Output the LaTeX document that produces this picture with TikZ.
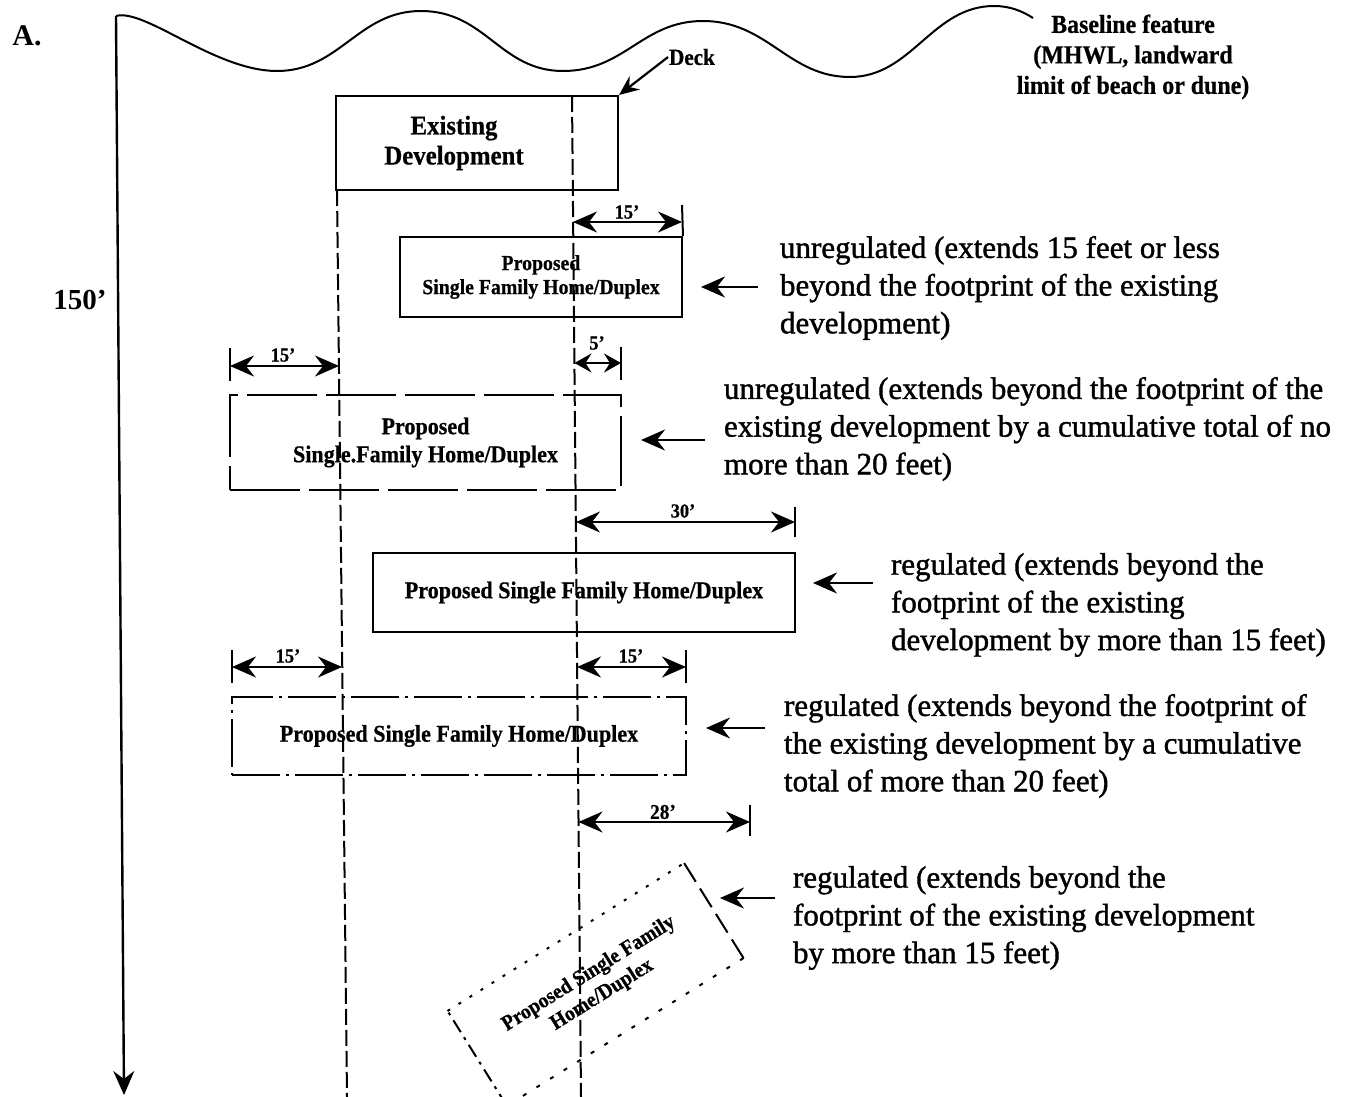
\documentclass[tikz,border=0pt]{standalone}
\usepackage{fontspec}
\setmainfont{Liberation Serif}
\newfontfamily\descfont{Liberation Serif}[FakeBold=1.3]
\newfontfamily\cfont{Liberation Serif}[FakeStretch=0.92, FakeBold=0.6]
\usetikzlibrary{arrows.meta,calc}
\begin{document}
\begin{tikzpicture}[x=1pt,y=-1pt,
  line width=2pt,
  vdash/.style={line width=2pt, dash pattern=on 16pt off 5pt},
  tipa/.tip={Stealth[length=24pt,width=21pt,inset=8pt]},
  dim/.style={line width=2.2pt, tipa-tipa},
  ind/.style={line width=2.4pt, -tipa},
  house/.style={inner sep=0pt, align=center, font=\cfont\bfseries\fontsize{24}{28}\selectfont},
  desc/.style={anchor=west, align=left, inner sep=0pt, font=\descfont\fontsize{31}{37.7}\selectfont},
  dlab/.style={font=\cfont\bfseries\fontsize{20}{22}\selectfont, inner sep=0pt},
]
\clip (0,0) rectangle (1353,1097);

% title and scale
\node[font=\bfseries\fontsize{30}{32}\selectfont] (A) at (27,36) {A.};
\node[font=\bfseries\fontsize{29}{32}\selectfont] (h150) at (80,300) {150’};

% baseline wave and axis
\coordinate (ax0) at (116,16);
\coordinate (ax1) at (124,1095);
\draw[ind] (ax0) -- (ax1);
\draw (ax0) .. controls (145,8) and (215,71) .. (277,71)
  .. controls (340,71) and (358,11) .. (421,11)
  .. controls (486,11) and (500,71) .. (563,71)
  .. controls (625,71) and (642,21) .. (703,21)
  .. controls (768,21) and (788,77) .. (850,77)
  .. controls (912,77) and (932,6) .. (994,6)
  .. controls (1010,6) and (1022,11) .. (1033,18);
\node[font=\cfont\bfseries\fontsize{26}{30.5}\selectfont, align=center] (base) at (1133,57) {Baseline feature\\(MHWL, landward\\limit of beach or dune)};

% existing development + deck
\node[draw, minimum width=282pt, minimum height=94pt, inner sep=0pt] (site) at (477,143) {};
\node[font=\cfont\bfseries\fontsize{27}{30}\selectfont, align=center, inner sep=0pt] (ex) at (454,143) {Existing\\Development};
\node[font=\cfont\bfseries\fontsize{23}{24}\selectfont, inner sep=0pt] (deckl) at (692,57) {Deck};
\draw[line width=2.2pt, -{Stealth[length=20pt,width=17pt,inset=7pt]}] (deckl.west) -- (site.north east);

% footprint lines
\coordinate (L0) at (337,190);
\coordinate (L1) at (347,1097);
\coordinate (R0) at (572,96);
\coordinate (R1) at (581,1097);
\draw[vdash] (L0) -- (L1);
\draw[vdash] (R0) -- (R1);

% box 1
\node[house, draw, minimum width=282pt, minimum height=80pt, font=\cfont\bfseries\fontsize{21.5}{24}\selectfont] (b1) at (541,277) {Proposed\\Single Family Home/Duplex};
\coordinate (d1a) at (573,222);
\coordinate (d1b) at (682,222);
\coordinate (k1) at (682,205);
\draw (k1) -- (b1.north east);
\draw[dim] (d1a) -- (d1b);
\node[dlab] (l1) at (627,212) {15’};
\node[desc] (t1) at (779,288) {unregulated (extends 15 feet or less\\beyond the footprint of the existing\\development)};
\coordinate (i1) at (758,287);
\draw[ind, shorten >=18pt] (i1) -- (i1 -| b1.east);

% box 2
\node[house, draw, dash pattern=on 70pt off 9pt, minimum width=391pt, minimum height=95pt] (b2) at (425.5,442.5) {Proposed\\Single.Family Home/Duplex};
\coordinate (d2a) at (230,366);
\coordinate (d2b) at (339,366);
\coordinate (k2a) at (230,348);
\coordinate (k2b) at (230,381);
\draw (k2a) -- (k2b);
\draw[dim] (d2a) -- (d2b);
\node[dlab] (l2) at (283,355) {15’};
\coordinate (d3a) at (574.5,363);
\coordinate (d3b) at (621,363);
\coordinate (k3a) at (621,347);
\coordinate (k3b) at (621,380);
\draw (k3a) -- (k3b);
\draw[line width=2.2pt, {Stealth[length=17pt,width=19pt,inset=6pt]}-{Stealth[length=17pt,width=19pt,inset=6pt]}] (d3a) -- (d3b);
\node[dlab] (l3) at (597,343) {5’};
\node[desc] (t2) at (723,429) {unregulated (extends beyond the footprint of the\\existing development by a cumulative total of no\\more than 20 feet)};
\coordinate (i2) at (705,440);
\draw[ind, shorten >=19pt] (i2) -- (i2 -| b2.east);

% box 3
\node[house, draw, minimum width=422pt, minimum height=79pt] (b3) at (584,592.5) {Proposed Single Family Home/Duplex};
\coordinate (d4a) at (576,522);
\coordinate (d4b) at (795,522);
\coordinate (k4) at (795,507);
\draw (k4) -- ($(k4)+(0,30)$);
\draw[dim] (d4a) -- (d4b);
\node[dlab] (l4) at (683,511) {30’};
\node[desc] (t3) at (890,605) {regulated (extends beyond the\\footprint of the existing\\development by more than 15 feet)};
\coordinate (i3) at (873,583);
\draw[ind, shorten >=17pt] (i3) -- (i3 -| b3.east);

% box 4
\node[house, draw, dash pattern=on 48pt off 6pt on 3pt off 6pt, minimum width=454pt, minimum height=78pt] (b4) at (459,736) {Proposed Single Family Home/Duplex};
\coordinate (d5a) at (232,667);
\coordinate (d5b) at (342,667);
\coordinate (k5a) at (232,650);
\coordinate (k5b) at (232,683);
\draw (k5a) -- (k5b);
\draw[dim] (d5a) -- (d5b);
\node[dlab] (l5) at (288,656) {15’};
\coordinate (d6a) at (577,667);
\coordinate (d6b) at (686,667);
\coordinate (k6a) at (686,650);
\coordinate (k6b) at (686,683);
\draw (k6a) -- (k6b);
\draw[dim] (d6a) -- (d6b);
\node[dlab] (l6) at (631,656) {15’};
\node[desc] (t4) at (783,746) {regulated (extends beyond the footprint of\\the existing development by a cumulative\\total of more than 20 feet)};
\coordinate (i4) at (765,728);
\draw[ind, shorten >=19pt] (i4) -- (i4 -| b4.east);

% box 5 (rotated)
\coordinate (d7a) at (578.5,822);
\coordinate (d7b) at (750,822);
\coordinate (k7a) at (750,805);
\coordinate (k7b) at (750,836);
\draw (k7a) -- (k7b);
\draw[dim] (d7a) -- (d7b);
\node[dlab, font=\cfont\bfseries\fontsize{21}{22}\selectfont] (l7) at (663,812) {28’};
\node[house, rotate=32, minimum width=277pt, minimum height=110pt, font=\cfont\bfseries\fontsize{21.5}{25}\selectfont] (b5) at (595.5,984.5) {Proposed Single Family\\Home/Duplex};
\draw[dash pattern=on 3pt off 10pt] (b5.north west) -- (b5.north east);
\draw[dash pattern=on 22pt off 8pt] (b5.north east) -- (b5.south east);
\draw[dash pattern=on 4pt off 12pt] (b5.south east) -- (b5.south west);
\draw[dash pattern=on 14pt off 6pt on 3pt off 6pt] (b5.south west) -- (b5.north west);
\node[desc] (t5) at (792,918) {regulated (extends beyond the\\footprint of the existing development\\by more than 15 feet)};
\coordinate (i5) at (775,898);
\coordinate (i5e) at (720,898);
\draw[ind] (i5) -- (i5e);
\end{tikzpicture}
\end{document}
